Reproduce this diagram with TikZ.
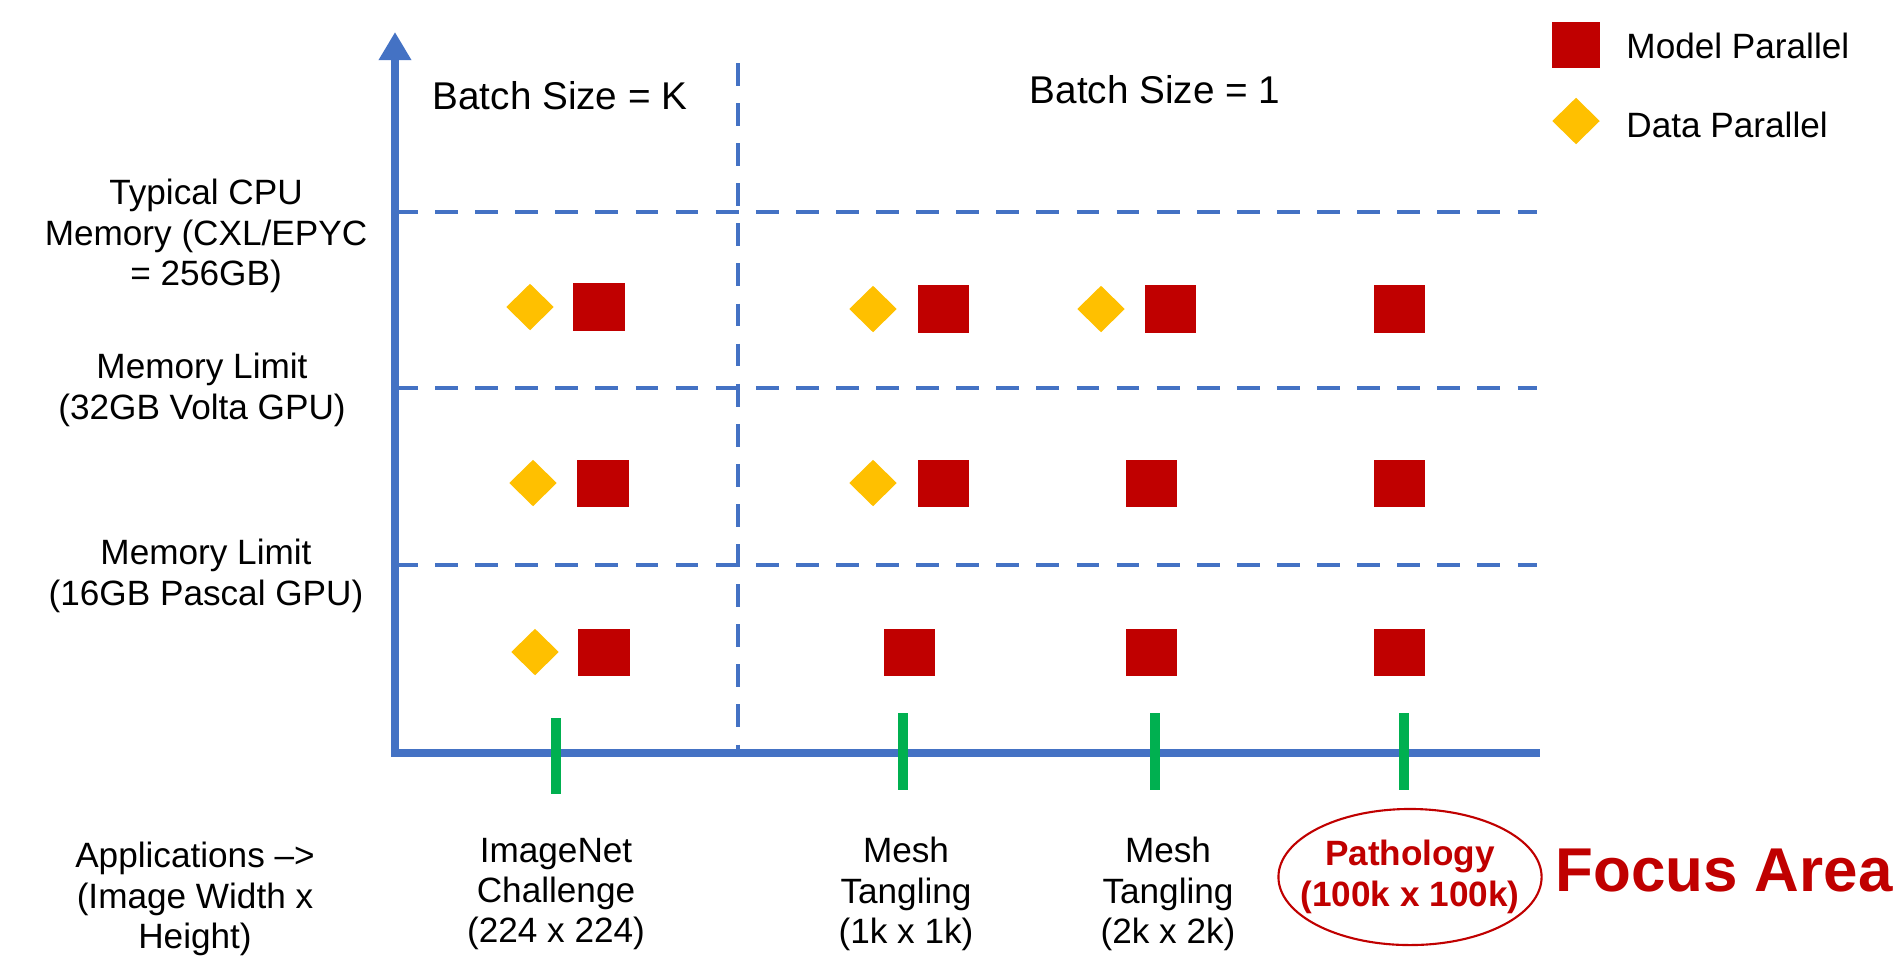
\documentclass[tikz,border=0pt]{standalone}
\usepackage{fontspec}
\setmainfont{Liberation Sans}
\usetikzlibrary{arrows.meta,shapes.geometric}
\definecolor{axisblue}{HTML}{4472C4}
\definecolor{mpred}{HTML}{C00000}
\definecolor{dpgold}{HTML}{FFC000}
\definecolor{tickgreen}{HTML}{00B050}

\begin{document}
\begin{tikzpicture}[x=0.01cm,y=-0.01cm,
  axisline/.style={axisblue,line width=2.4pt},
  gridline/.style={axisblue,line width=1.35pt,dash pattern=on 6.5pt off 4.9pt},
  tickmark/.style={tickgreen,line width=2.8pt},
  mp/.style={rectangle,fill=mpred,minimum width=0.51cm,minimum height=0.47cm,inner sep=0pt},
  dp/.style={diamond,fill=dpgold,minimum width=0.48cm,minimum height=0.47cm,inner sep=0pt},
  lbl/.style={align=center,font=\fontsize{10}{11.5}\selectfont},
  batch/.style={font=\fontsize{11}{13}\selectfont},
  legendtext/.style={anchor=west,font=\fontsize{10}{12}\selectfont}]
\useasboundingbox (0,0) rectangle (1901,960);

% axes
\coordinate (origin) at (395,753);
\coordinate (ytop) at (395,32);
\coordinate (xend) at (1540,753);

% grid lines
\coordinate (g1l) at (395,212); \coordinate (g1r) at (1537,212);
\coordinate (g2l) at (395,388); \coordinate (g2r) at (1537,388);
\coordinate (g3l) at (395,565); \coordinate (g3r) at (1537,565);
\coordinate (vtop) at (738,63);  \coordinate (vbot) at (738,752);
\draw[gridline] (g1l) -- (g1r);
\draw[gridline] (g2l) -- (g2r);
\draw[gridline] (g3l) -- (g3r);
\draw[gridline] (vtop) -- (vbot);

\draw[axisline,{Triangle[length=8pt,width=8.8pt]}-] (ytop) -- (origin) -- (xend);

% ticks on the application axis
\coordinate (t1a) at (556,718);  \coordinate (t1b) at (556,794);
\coordinate (t2a) at (903,713);  \coordinate (t2b) at (903,790);
\coordinate (t3a) at (1155,713); \coordinate (t3b) at (1155,790);
\coordinate (t4a) at (1404,713); \coordinate (t4b) at (1404,790);
\draw[tickmark] (t1a) -- (t1b);
\draw[tickmark] (t2a) -- (t2b);
\draw[tickmark] (t3a) -- (t3b);
\draw[tickmark] (t4a) -- (t4b);

% markers, top row
\node[dp] (d11) at (530,307) {};
\node[mp] (m11) at (599,307) {};
\node[dp] (d12) at (873,309) {};
\node[mp] (m12) at (943,309) {};
\node[dp] (d13) at (1101,309) {};
\node[mp] (m13) at (1170,309) {};
\node[mp] (m14) at (1399,309) {};
% middle row
\node[dp] (d21) at (533,483) {};
\node[mp] (m21) at (603,483) {};
\node[dp] (d22) at (873,483) {};
\node[mp] (m22) at (943,483) {};
\node[mp] (m23) at (1151,483) {};
\node[mp] (m24) at (1399,483) {};
% bottom row
\node[dp] (d31) at (535,652) {};
\node[mp] (m31) at (604,652) {};
\node[mp] (m32) at (909,652) {};
\node[mp] (m33) at (1151,652) {};
\node[mp] (m34) at (1399,652) {};

% legend
\node[mp, minimum width=0.48cm, minimum height=0.46cm] (legmp) at (1576,45) {};
\node[dp] (legdp) at (1576,121) {};
\node[legendtext] (legmptxt) at (1614,46) {Model Parallel};
\node[legendtext] (legdptxt) at (1614,125) {Data Parallel};

% batch size headings
\node[batch] (bsk) at (560,96) {Batch Size = K};
\node[batch] (bs1) at (1155,90) {Batch Size = 1};

% memory levels
\node[lbl] (cpu) at (206,236) {Typical CPU\\Memory (CXL/EPYC\\= 256GB)};
\node[lbl] (volta) at (202,390) {Memory Limit\\(32GB Volta GPU)};
\node[lbl] (pascal) at (206,576) {Memory Limit\\(16GB Pascal GPU)};

% applications
\node[lbl] (apps) at (195,899) {Applications –>\\(Image Width x\\Height)};
\node[lbl] (imagenet) at (556,894) {ImageNet\\Challenge\\(224 x 224)};
\node[lbl] (mesh1) at (906,894) {Mesh\\Tangling\\(1k x 1k)};
\node[lbl] (mesh2) at (1168,894) {Mesh\\Tangling\\(2k x 2k)};
\node[ellipse, draw=mpred, line width=0.6pt,
      minimum width=2.63cm, minimum height=1.36cm, inner sep=0pt]
      (ring) at (1410,877) {};
\node[text=mpred, align=center, font=\fontsize{10}{11.5}\selectfont\bfseries]
      (patho) at (ring.center) {Pathology\\(100k x 100k)};
\node[text=mpred, font=\fontsize{17.6}{20}\selectfont\bfseries] (focus) at (1724,870) {Focus Area};
\end{tikzpicture}
\end{document}
